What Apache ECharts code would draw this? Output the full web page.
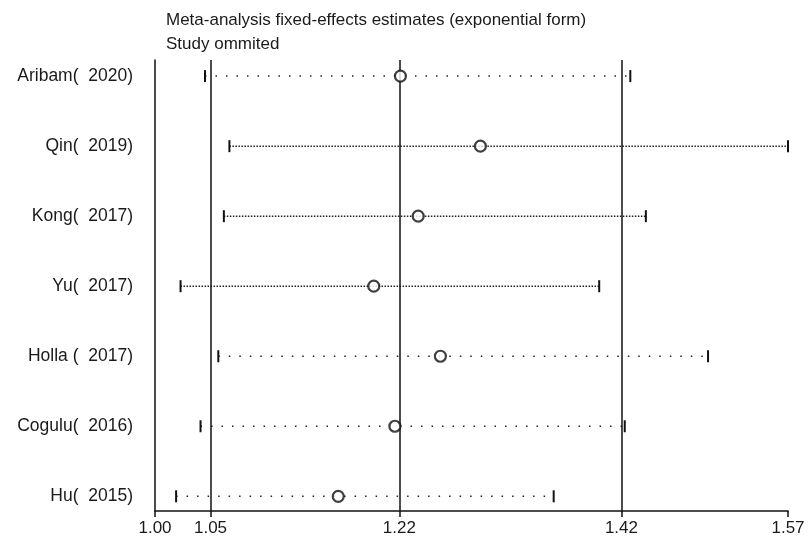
<!DOCTYPE html>
<html>
<head>
<meta charset="utf-8">
<script src="https://cdn.jsdelivr.net/npm/echarts@6/dist/echarts.min.js"></script>
<style>html,body{margin:0;padding:0;background:#fff}#c{width:808px;height:541px}</style>
</head>
<body>
<div id="c"></div>
<script>
var studies = ['Aribam(  2020)', 'Qin(  2019)', 'Kong(  2017)', 'Yu(  2017)', 'Holla (  2017)', 'Cogulu(  2016)', 'Hu(  2015)'];
var lower = [1.045, 1.067, 1.062, 1.023, 1.057, 1.041, 1.019];
var estimate = [1.221, 1.293, 1.237, 1.197, 1.257, 1.216, 1.165];
var upper = [1.428, 1.570, 1.442, 1.400, 1.498, 1.423, 1.359];
var dense = [false, true, true, true, false, false, false];
var tickValues = [1.00, 1.05, 1.22, 1.42, 1.57];
var refLines = [1.05, 1.22, 1.42];

var chart = echarts.init(document.getElementById('c'));
var font = 'Liberation Sans, Arial, sans-serif';
var ciData = studies.map(function (s, i) { return [lower[i], upper[i], i, dense[i] ? 1 : 0]; });
var ptData = studies.map(function (s, i) { return [estimate[i], i]; });

chart.setOption({
  animation: false,
  title: {
    text: 'Meta-analysis fixed-effects estimates (exponential form)\nStudy ommited',
    left: 161, top: 4,
    textStyle: { fontFamily: font, fontSize: 17, fontWeight: 'normal', color: '#1a1a1a', lineHeight: 23.5 }
  },
  grid: { left: 155, right: 20, top: 60, bottom: 30, containLabel: false },
  xAxis: {
    type: 'value', min: 1.0, max: 1.57,
    splitLine: { show: false },
    axisLine: { show: true, onZero: false, lineStyle: { color: '#111', width: 1.5 } },
    axisTick: { show: true, length: 6, customValues: tickValues, lineStyle: { color: '#111', width: 1.5 } },
    axisLabel: { customValues: tickValues, fontFamily: font, fontSize: 17, color: '#1a1a1a', margin: 9,
      formatter: function (v) { return v.toFixed(2); } }
  },
  yAxis: {
    type: 'value', min: -0.23, max: 6.21, inverse: true,
    splitLine: { show: false },
    axisLine: { show: true, onZero: false, lineStyle: { color: '#111', width: 1.5 } },
    axisTick: { show: false },
    axisLabel: { customValues: [0, 1, 2, 3, 4, 5, 6], fontFamily: font, fontSize: 17.5, color: '#1a1a1a', margin: 22,
      formatter: function (v) { return studies[Math.round(v)]; } }
  },
  series: [
    {
      type: 'custom',
      data: ciData,
      renderItem: function (params, api) {
        var a = api.coord([api.value(0), api.value(2)]);
        var b = api.coord([api.value(1), api.value(2)]);
        var isDense = api.value(3) === 1;
        var dash = isDense ? [1.5, 1.5] : [1.5, 9];
        return {
          type: 'group',
          children: [
            { type: 'line', shape: { x1: a[0], y1: a[1], x2: b[0], y2: b[1] },
              style: { stroke: '#222', lineWidth: 1.5, lineDash: dash } },
            { type: 'line', shape: { x1: a[0], y1: a[1] - 6, x2: a[0], y2: a[1] + 6 },
              style: { stroke: '#111', lineWidth: 2 } },
            { type: 'line', shape: { x1: b[0], y1: b[1] - 6, x2: b[0], y2: b[1] + 6 },
              style: { stroke: '#111', lineWidth: 2 } }
          ]
        };
      },
      markLine: {
        silent: true, symbol: 'none', label: { show: false },
        lineStyle: { color: '#111', width: 1.5, type: 'solid' },
        data: refLines.map(function (v) { return { xAxis: v }; })
      },
      z: 2
    },
    {
      type: 'scatter',
      data: ptData,
      symbol: 'circle', symbolSize: 11,
      itemStyle: { color: '#fff', borderColor: '#111', borderWidth: 2.2 },
      z: 5
    }
  ]
});
</script>
</body>
</html>
